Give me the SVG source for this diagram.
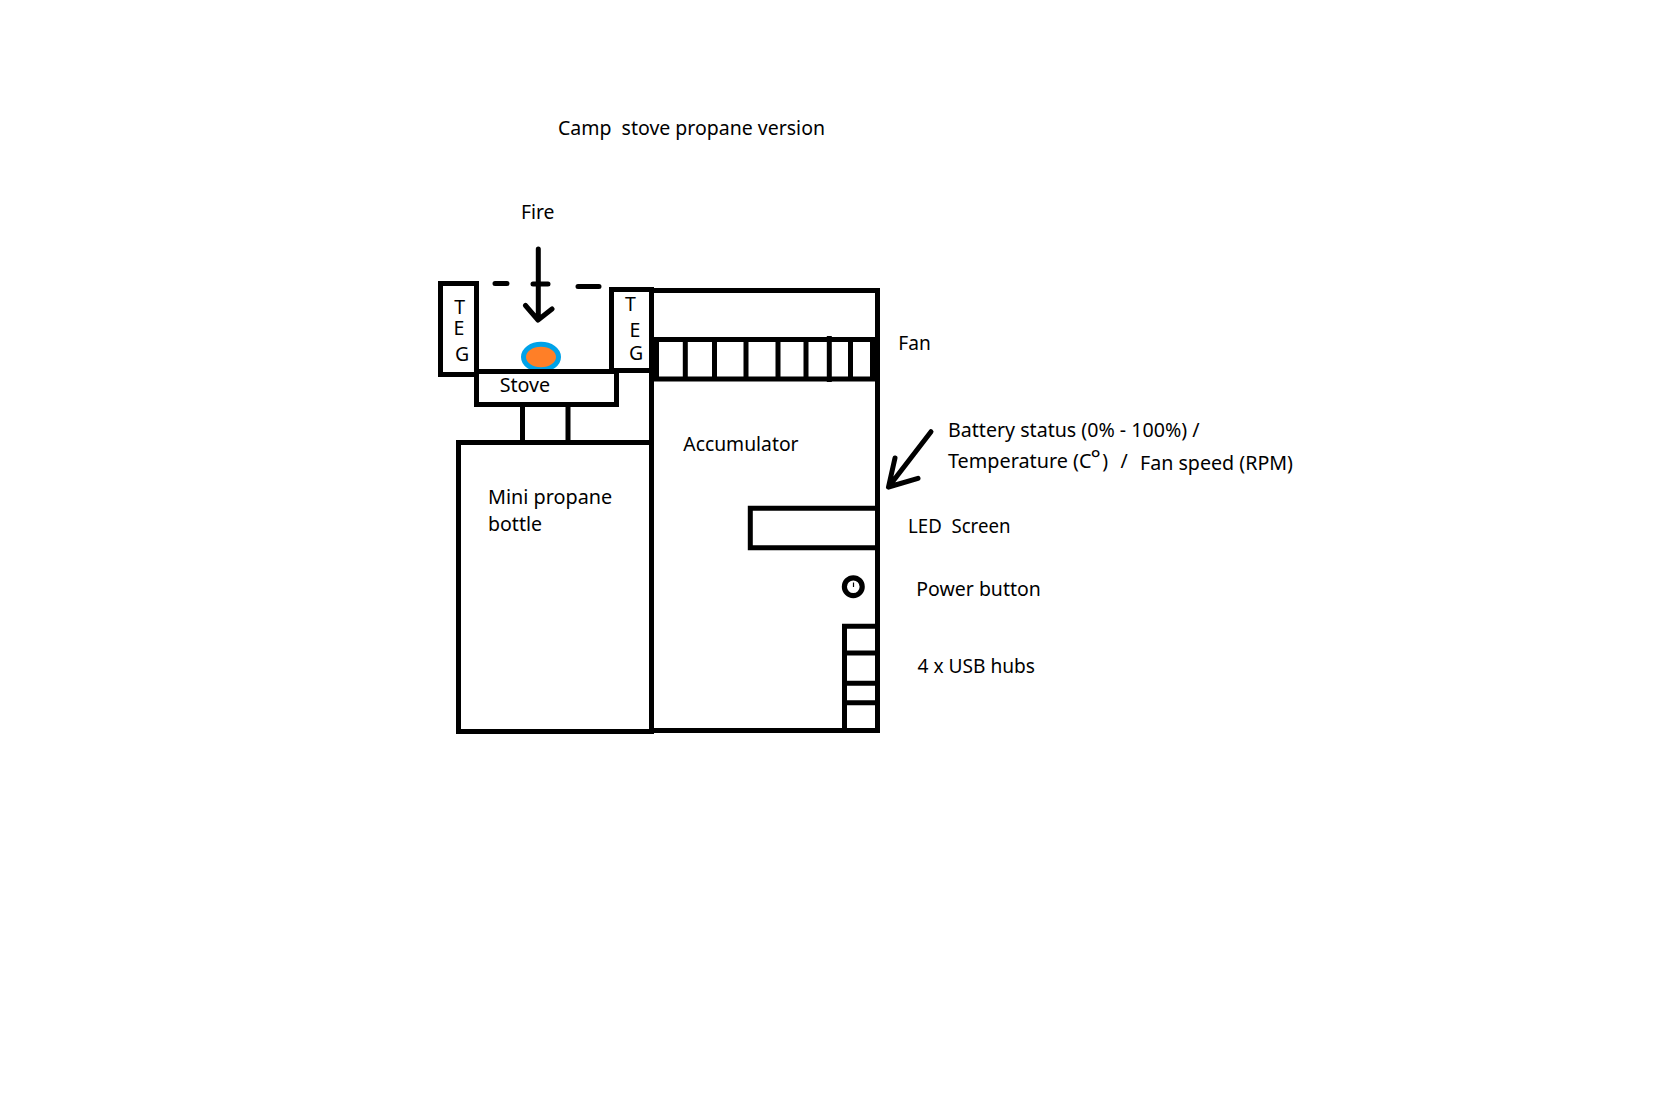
<svg xmlns="http://www.w3.org/2000/svg" width="1675" height="1109" viewBox="0 0 1675 1109">
<style>
.s{fill:none;stroke:#000;stroke-width:5}
.a{fill:none;stroke:#000;stroke-width:5;stroke-linecap:round;stroke-linejoin:round}
text{font-family:"Noto Sans","Open Sans","Liberation Sans",sans-serif;font-size:19.5px;fill:#000}
</style>
<rect width="1675" height="1109" fill="#fff"/>
<g id="title"><text x="558" y="135" textLength="267" lengthAdjust="spacingAndGlyphs" xml:space="preserve">Camp  stove propane version</text></g>
<g id="fire">
<text x="521" y="219" textLength="33.5" lengthAdjust="spacingAndGlyphs">Fire</text>
<ellipse cx="541" cy="357" rx="17.5" ry="12.7" fill="#ff7f27" stroke="#00a2e8" stroke-width="5"/>
</g>
<g id="teg-left">
<rect class="s" x="440.5" y="283.5" width="36" height="91"/>
<text><tspan x="454.3" y="314">T</tspan><tspan x="453.5" y="334.7">E</tspan><tspan x="455" y="361">G</tspan></text>
</g>
<g id="teg-right">
<rect class="s" x="611.5" y="289.5" width="40" height="81"/>
<text><tspan x="625" y="310.7">T</tspan><tspan x="629.5" y="336.7">E</tspan><tspan x="629" y="360">G</tspan></text>
</g>
<g id="stove">
<rect class="s" x="476.5" y="371.5" width="140" height="33"/>
<text x="499.7" y="392" textLength="50.5" lengthAdjust="spacingAndGlyphs">Stove</text>
</g>
<g id="neck"><path class="s" d="M522.5 405V441M568 405V441"/></g>
<g id="bottle">
<rect class="s" x="458.5" y="442.5" width="193" height="289"/>
<text x="488" y="504.3" textLength="124.2" lengthAdjust="spacingAndGlyphs">Mini propane</text>
<text x="488" y="531.3" textLength="54" lengthAdjust="spacingAndGlyphs">bottle</text>
</g>
<g id="accumulator">
<path class="s" d="M651.5 290.5H877.5V730.5H651.5Z"/>
<text x="683.3" y="451" textLength="115.3" lengthAdjust="spacingAndGlyphs">Accumulator</text>
</g>
<g id="fan">
<path class="s" d="M654 339.5H875M654 379H875"/>
<path class="s" d="M656.5 339V379M685.3 339V379M714.5 339V379M746 339V379M778 339V379M806 339V379M829.3 336V382M850.5 339V379M872.5 339V379"/>
<text x="898.3" y="350" textLength="32.5" lengthAdjust="spacingAndGlyphs">Fan</text>
</g>
<g id="led">
<path class="s" d="M877 508.3H750.3V547.7H877"/>
<text x="908" y="532.7" textLength="102.5" lengthAdjust="spacingAndGlyphs" xml:space="preserve">LED  Screen</text>
</g>
<g id="button">
<circle cx="853.3" cy="586.7" r="8.9" fill="#fff" stroke="#000" stroke-width="5.2"/>
<path d="M853.5 582.5V587" fill="none" stroke="#000" stroke-width="1.2"/>
<text x="916.3" y="595.7" textLength="124.5" lengthAdjust="spacingAndGlyphs">Power button</text>
</g>
<g id="usb">
<path class="s" d="M844.5 730V626.3H877M844.5 653H877M844.5 683.3H877M844.5 702.7H877"/>
<text x="917.5" y="672.7" textLength="117.5" lengthAdjust="spacingAndGlyphs">4 x USB hubs</text>
</g>
<g id="status">
<text x="948" y="436.7" textLength="251.5" lengthAdjust="spacingAndGlyphs">Battery status (0% - 100%) /</text>
<text x="948" y="468" textLength="143.5" lengthAdjust="spacingAndGlyphs">Temperature (C</text>
<text x="1090.5" y="467" style="font-size:24px">°</text>
<text x="1102.2" y="468">)</text>
<text x="1120.5" y="468">/</text>
<text x="1140" y="470" textLength="153" lengthAdjust="spacingAndGlyphs">Fan speed (RPM)</text>
</g>
<g id="connectors">
<path class="a" d="M538.3 249V319M525.5 305.5L538 320L552 309"/>
<path class="a" d="M495 283.5H507M533 284H548M578 286.5H599"/>
<path class="a" d="M931 431.7L888.5 487M895 458L888.5 487L918 478.3"/>
</g>
</svg>
